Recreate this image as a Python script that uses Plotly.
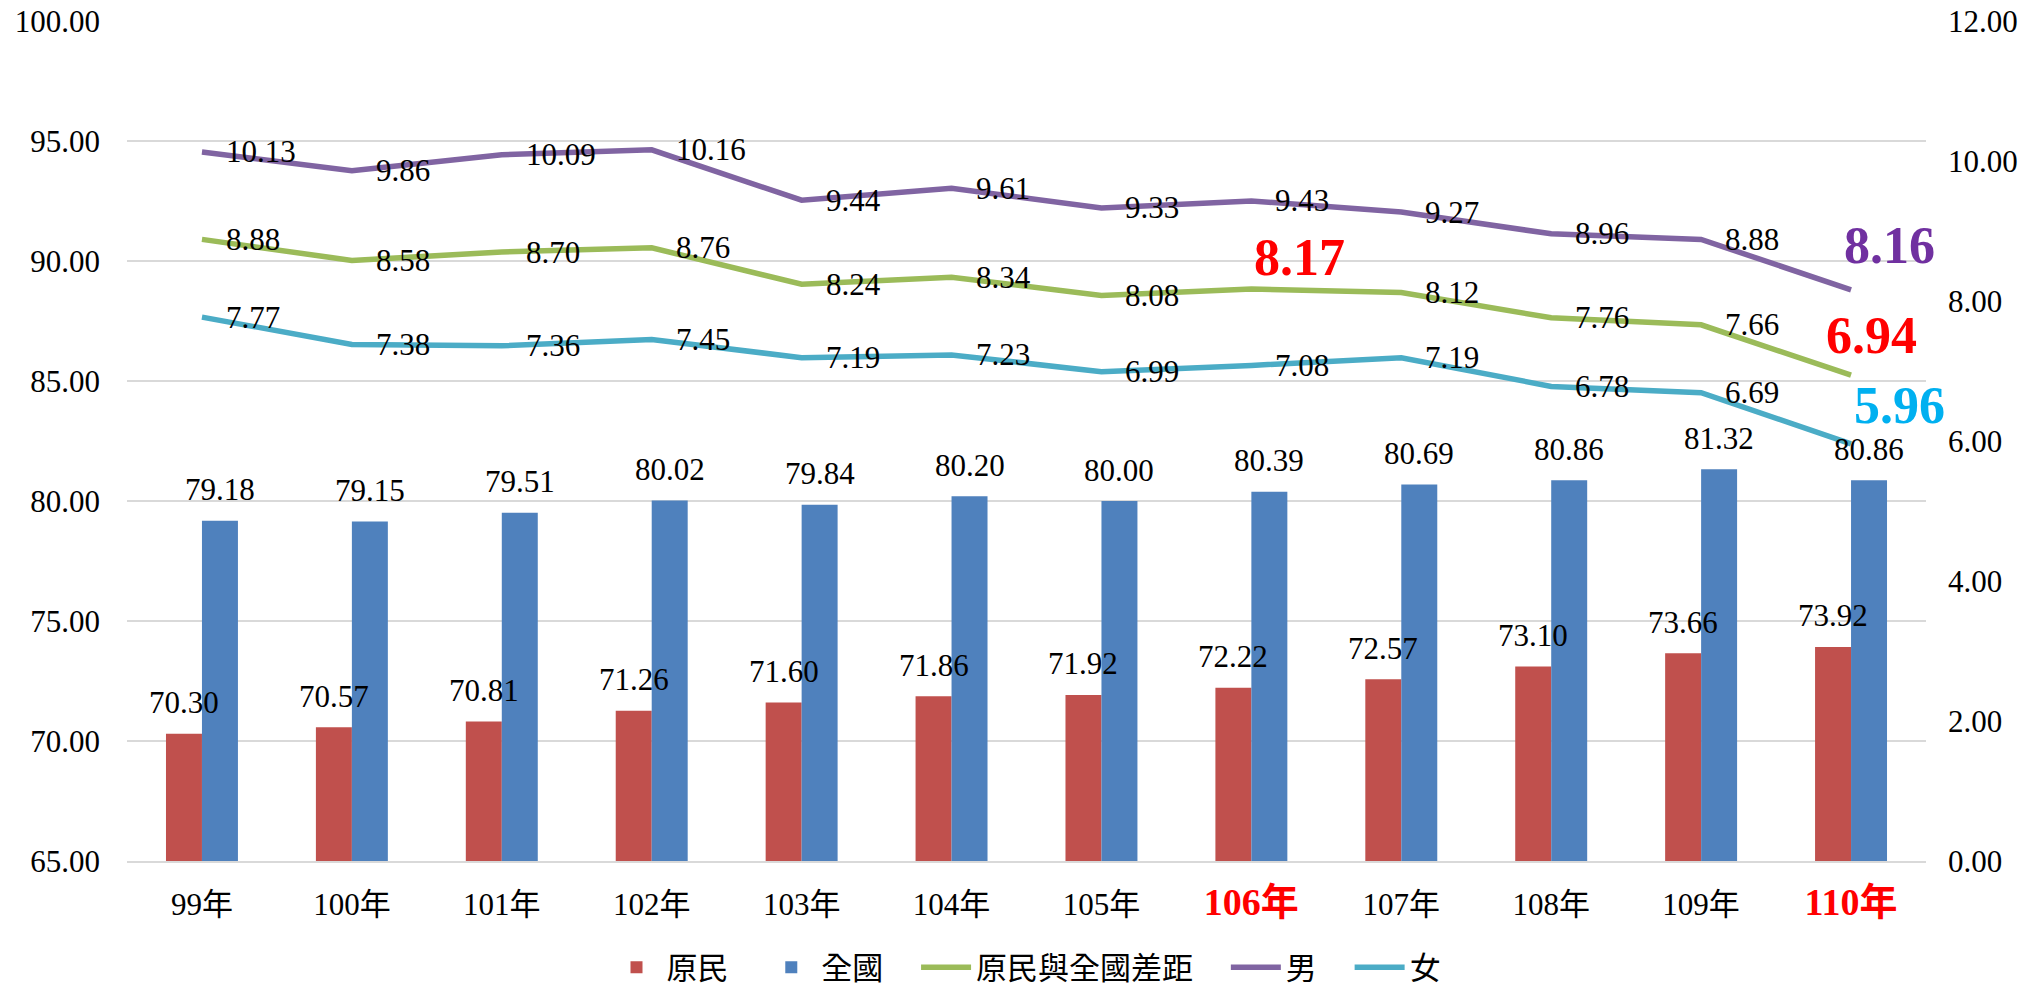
import plotly.graph_objects as go

years = ["99年", "100年", "101年", "102年", "103年", "104年", "105年", "106年", "107年", "108年", "109年", "110年"]
tick_labels = ["99年", "100年", "101年", "102年", "103年", "104年", "105年",
               "<b><span style='color:#FF0000;font-size:38px'>106年</span></b>",
               "107年", "108年", "109年",
               "<b><span style='color:#FF0000;font-size:38px'>110年</span></b>"]
indigenous = [70.30, 70.57, 70.81, 71.26, 71.60, 71.86, 71.92, 72.22, 72.57, 73.10, 73.66, 73.92]
national = [79.18, 79.15, 79.51, 80.02, 79.84, 80.20, 80.00, 80.39, 80.69, 80.86, 81.32, 80.86]
gap_all = [8.88, 8.58, 8.70, 8.76, 8.24, 8.34, 8.08, 8.17, 8.12, 7.76, 7.66, 6.94]
gap_male = [10.13, 9.86, 10.09, 10.16, 9.44, 9.61, 9.33, 9.43, 9.27, 8.96, 8.88, 8.16]
gap_female = [7.77, 7.38, 7.36, 7.45, 7.19, 7.23, 6.99, 7.08, 7.19, 6.78, 6.69, 5.96]
series_names = ["原民", "全國", "原民與全國差距", "男", "女"]

SERIF = "Liberation Serif, Noto Sans CJK TC, serif"
SANS = "Noto Sans CJK TC, Noto Sans, sans-serif"
C_RED, C_BLUE, C_GREEN, C_PURPLE, C_CYAN = "#C0504D", "#4F81BD", "#9BBB59", "#8064A2", "#4BACC6"
PAD = "\u00A0" * 4  # spacing between legend entries
legend_names = [n + PAD for n in series_names[:-1]] + [series_names[-1]]

fig = go.Figure()
fig.add_trace(go.Bar(x=years, y=indigenous, name=legend_names[0], marker=dict(color=C_RED, line=dict(width=0))))
fig.add_trace(go.Bar(x=years, y=national, name=legend_names[1], marker=dict(color=C_BLUE, line=dict(width=0))))
fig.add_trace(go.Scatter(x=years, y=gap_all, name=legend_names[2], mode="lines", yaxis="y2",
                         line=dict(color=C_GREEN, width=5.5)))
fig.add_trace(go.Scatter(x=years, y=gap_male, name=legend_names[3], mode="lines", yaxis="y2",
                         line=dict(color=C_PURPLE, width=5.5)))
fig.add_trace(go.Scatter(x=years, y=gap_female, name=legend_names[4], mode="lines", yaxis="y2",
                         line=dict(color=C_CYAN, width=5.5)))

ann = []
# bar labels
for series, shift in ((indigenous, -18), (national, 18)):
    for cat, v in zip(years, series):
        ann.append(dict(x=cat, y=v, xref="x", yref="y", text=f"{v:.2f}", showarrow=False,
                        xanchor="center", yanchor="middle", xshift=shift, yshift=31,
                        font=dict(family=SERIF, size=31, color="black")))
# line labels
for series in (gap_all, gap_male, gap_female):
    for i, (cat, v) in enumerate(zip(years, series)):
        if i == len(years) - 1:
            continue
        if series is gap_all and cat == "106年":
            continue
        ann.append(dict(x=cat, y=v, xref="x", yref="y2", text=f"{v:.2f}", showarrow=False,
                        xanchor="left", yanchor="middle", xshift=22, yshift=0,
                        font=dict(family=SERIF, size=31, color="black")))
# highlighted labels
i106 = years.index("106年")
ann.append(dict(x=years[i106], y=gap_all[i106], xref="x", yref="y2", text=f"<b>{gap_all[i106]:.2f}</b>",
                showarrow=False, xanchor="left", yanchor="middle", xshift=1, yshift=32,
                font=dict(family=SERIF, size=52, color="#FF0000")))
last = len(years) - 1
for series, col, xs, ys in ((gap_male, "#7030A0", 38, 44), (gap_all, "#FF0000", 20, 40),
                            (gap_female, "#00B0F0", 48, 38)):
    ann.append(dict(x=years[last], y=series[last], xref="x", yref="y2", text=f"<b>{series[last]:.2f}</b>",
                    showarrow=False, xanchor="center", yanchor="middle", xshift=xs, yshift=ys,
                    font=dict(family=SERIF, size=52, color=col)))

fig.update_layout(
    width=2043, height=995,
    margin=dict(l=127, r=117, t=21, b=134, autoexpand=False),
    paper_bgcolor="white", plot_bgcolor="white",
    barmode="group", bargap=0.52, bargroupgap=0,
    font=dict(family=SERIF, size=31, color="black"),
    xaxis=dict(type="category", categoryorder="array", categoryarray=years,
               range=[-0.5, len(years) - 0.5], autorange=False,
               tickvals=years, ticktext=tick_labels, showgrid=False,
               showline=True, linecolor="#D9D9D9", linewidth=2, ticks="",
               tickfont=dict(family=SERIF, size=31, color="black"),
               ticklabelstandoff=15, automargin=False),
    yaxis=dict(range=[65, 100], dtick=5, tickformat=".2f", showgrid=True,
               gridcolor="#D9D9D9", gridwidth=1.5, zeroline=False, showline=False, ticks="",
               tickfont=dict(family=SERIF, size=31, color="black"), ticklabelstandoff=26,
               automargin=False),
    yaxis2=dict(range=[0, 12], dtick=2, tickformat=".2f", overlaying="y", side="right",
                showgrid=False, zeroline=False, showline=False, ticks="",
                tickfont=dict(family=SERIF, size=31, color="black"), ticklabelstandoff=21,
                automargin=False),
    legend=dict(orientation="h", x=0.5, xanchor="center", y=-0.159, yanchor="bottom",
                font=dict(family=SANS, size=31, color="black"), itemwidth=50,
                traceorder="normal"),
    annotations=ann,
)

fig.write_html("out.html", config={"displayModeBar": False},
               post_script="document.body.style.margin='0';document.body.style.overflow='hidden';")
